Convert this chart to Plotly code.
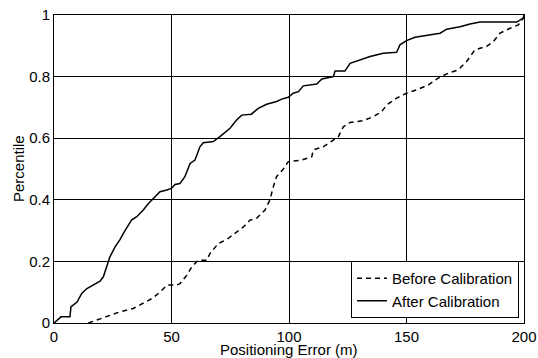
import plotly.graph_objects as go

# After Calibration (solid)
after_x = [0, 1.4, 3, 6.8, 7.2, 9.8, 11.8, 14, 16.7, 19.6, 21, 22.4, 23.8, 26, 28, 30.2, 33, 35.2, 38, 40.2,
           43, 45.1, 48, 50, 51.5, 53.6, 55.7, 57.9, 60, 62.1, 63.5, 67.8, 70.6, 74.9, 77.7, 79.9, 84, 86.9,
           90.5, 94.7, 96.9, 99.7, 101.8, 104, 106.1, 111.8, 114, 118.9, 119.6, 123.8, 126, 130.2, 134.5,
           140.1, 145.8, 147.2, 150, 153.6, 160, 164.3, 167.1, 172.8, 177, 181.3, 185.5, 196.9, 199.7, 200]
after_y = [0, 0.009, 0.02, 0.02, 0.052, 0.068, 0.096, 0.112, 0.123, 0.136, 0.15, 0.18, 0.215, 0.247, 0.27,
           0.30, 0.334, 0.345, 0.367, 0.388, 0.41, 0.426, 0.432, 0.437, 0.45, 0.453, 0.475, 0.518, 0.529,
           0.572, 0.585, 0.589, 0.605, 0.632, 0.659, 0.675, 0.678, 0.697, 0.71, 0.719, 0.727, 0.733, 0.746,
           0.751, 0.77, 0.776, 0.792, 0.80, 0.818, 0.818, 0.843, 0.854, 0.865, 0.876, 0.879, 0.903, 0.917,
           0.928, 0.936, 0.941, 0.954, 0.962, 0.971, 0.977, 0.977, 0.977, 0.99, 1.0]

# Before Calibration (dashed)
before_x = [14.6, 19.6, 23.8, 28, 33.7, 38, 41.6, 45.1, 48, 52.2, 53.6, 56.5, 58.6, 61.4, 65, 66.4, 69.9,
            73.5, 77, 80.6, 83.4, 86.2, 89.8, 91.9, 93.3, 94.7, 97.6, 99.7, 105.4, 109.7, 110.3, 114.6,
            118.9, 121, 123.1, 126, 131.6, 135.9, 139.4, 141.6, 145.8, 150, 154.3, 159.3, 163.5, 167.1,
            172, 175.6, 179.1, 184.1, 187, 189.8, 194.1, 197.6, 199.7, 200]
before_y = [0, 0.014, 0.025, 0.036, 0.047, 0.063, 0.079, 0.10, 0.123, 0.123, 0.128, 0.155, 0.182, 0.204,
            0.204, 0.226, 0.258, 0.271, 0.291, 0.312, 0.334, 0.34, 0.367, 0.40, 0.442, 0.475, 0.50, 0.524,
            0.529, 0.54, 0.562, 0.572, 0.594, 0.605, 0.637, 0.651, 0.657, 0.67, 0.686, 0.708, 0.73, 0.746,
            0.757, 0.773, 0.795, 0.809, 0.822, 0.849, 0.887, 0.898, 0.914, 0.941, 0.957, 0.968, 0.99, 1.0]

x_ticks = [0, 50, 100, 150, 200]
x_ticklabels = ["0", "50", "100", "150", "200"]
y_ticks = [0, 0.2, 0.4, 0.6, 0.8, 1]
y_ticklabels = ["0", "0.2", "0.4", "0.6", "0.8", "1"]
x_title = "Positioning Error (m)"
y_title = "Percentile"

FONT = "Liberation Sans, Arial, sans-serif"
FS = 15
W, H = 538, 358
ML, MR, MT, MB = 54, 14, 15, 35
PW = W - ML - MR
PH = H - MT - MB
PB = H - MB  # plot bottom in figure px

fig = go.Figure()
fig.add_trace(go.Scatter(x=before_x, y=before_y, mode="lines", name="Before Calibration",
                         line=dict(color="black", width=1.5, dash="5px,4px")))
fig.add_trace(go.Scatter(x=after_x, y=after_y, mode="lines", name="After Calibration",
                         line=dict(color="black", width=1.5)))

axis_common = dict(showline=True, mirror=True, linecolor="black", linewidth=1,
                   showgrid=True, gridcolor="black", gridwidth=1, zeroline=False,
                   ticks="inside", ticklen=5, tickcolor="black", automargin=False,
                   ticklabeloverflow="allow",
                   tickfont=dict(family=FONT, size=FS, color="black"))

fig.update_xaxes(range=[0, 200], tickvals=x_ticks, ticktext=x_ticklabels, **axis_common)
fig.update_yaxes(range=[0, 1], tickvals=y_ticks, ticktext=y_ticklabels, **axis_common)

fig.add_annotation(text=x_title, xref="paper", yref="paper", x=0.5, y=(PB - 350) / PH,
                   xanchor="center", yanchor="middle", showarrow=False,
                   font=dict(family=FONT, size=FS, color="black"))
fig.add_annotation(text=y_title, xref="paper", yref="paper", x=(18 - ML) / PW, y=0.5,
                   xanchor="center", yanchor="middle", showarrow=False, textangle=-90,
                   font=dict(family=FONT, size=FS, color="black"))

fig.update_layout(
    width=W, height=H,
    margin=dict(l=ML, r=MR, t=MT, b=MB),
    plot_bgcolor="white", paper_bgcolor="white",
    font=dict(family=FONT, size=FS, color="black"),
    showlegend=True,
    legend=dict(x=(519 - ML) / PW, y=(PB - 318) / PH, xanchor="right", yanchor="bottom",
                bgcolor="white", bordercolor="black", borderwidth=1,
                font=dict(family=FONT, size=FS, color="black"),
                itemwidth=30, tracegroupgap=0),
)

# remove the default 8px page margin so the figure fills the window exactly
fig.write_html("out.html", config={"displayModeBar": False},
               post_script="document.body.style.margin='0';")
